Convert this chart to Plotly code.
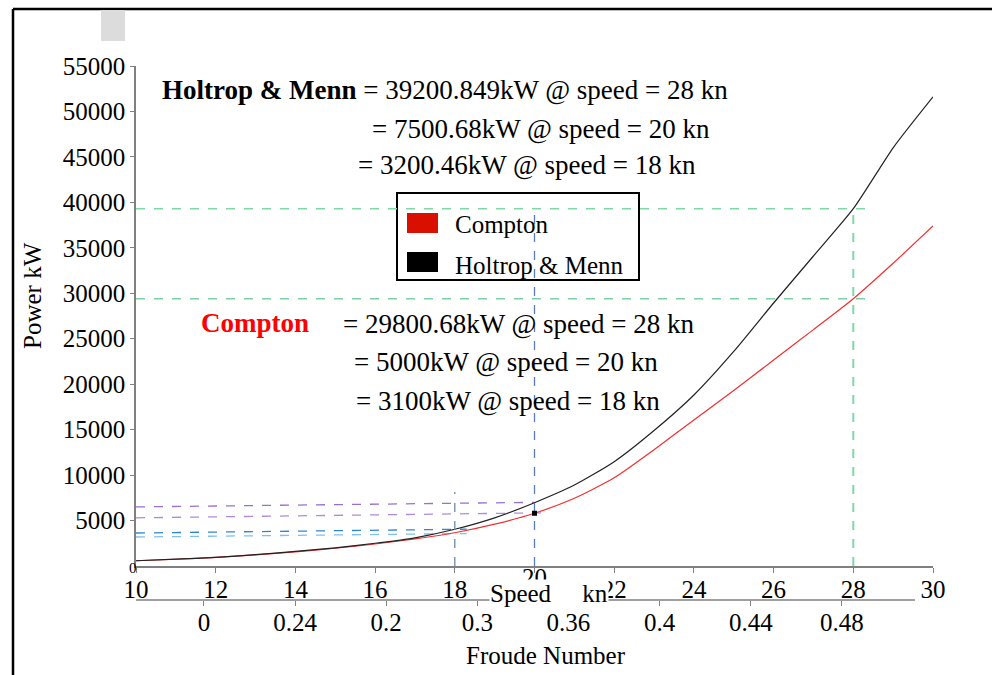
import plotly.graph_objects as go

# speed in knots and power in kW
speed = [10, 11, 12, 13, 14, 15, 16, 17, 18, 19, 20, 21, 22, 23, 24, 25, 26, 27, 28, 29, 30]
holtrop_kw = [580, 750, 950, 1250, 1600, 2000, 2500, 3100, 4040, 5300, 6960, 8900, 11470, 14900,
              18810, 23600, 28930, 34100, 39300, 46000, 51600]
compton_kw = [580, 740, 940, 1220, 1550, 1950, 2420, 2980, 3660, 4600, 5800, 7450, 9700, 12800,
              16060, 19300, 22660, 26000, 29400, 33300, 37400]

# dashed guide lines (speed, kW)
guide_green_hi = ([10, 28.5], [39300, 39300])
guide_green_lo = ([10, 28.3], [29400, 29400])
guide_green_v = ([28, 28], [0, 39300])
guide_blue_v = ([20, 20], [0, 39300])
guide_grey_v = ([18, 18], [0, 8150])
guide_purple_1 = ([10, 20], [6500, 7000])
guide_purple_2 = ([10, 20.2], [5300, 5850])
guide_blue_1 = ([10, 18.3], [3630, 4050])
guide_blue_2 = ([10, 18.3], [3190, 3570])
marker_pt = ([20], [5800])

speed_ticks = [10, 12, 14, 16, 18, 20, 22, 24, 26, 28, 30]
speed_text = ["10", "12", "14", "16", "18", "", "22", "24", "26", "28", "30"]
power_ticks = [5000, 10000, 15000, 20000, 25000, 30000, 35000, 40000, 45000, 50000, 55000]
power_text = ["5000", "10000", "15000", "20000", "25000", "30000", "35000", "40000", "45000",
              "50000", "55000"]
froude_pos = [0, 1, 2, 3, 4, 5, 6, 7]
froude_text = ["0", "0.24", "0.2", "0.3", "0.36", "0.4", "0.44", "0.48"]

FONT = "Liberation Serif"
L, R, T, B = 136, 933, 66, 600


def px(x):
    return (x - L) / (R - L)


def py(y):
    return (B - y) / (B - T)


fig = go.Figure()


def dashed(xy, color, width=1.3):
    fig.add_trace(go.Scatter(x=xy[0], y=xy[1], mode="lines", showlegend=False, hoverinfo="skip",
                             line=dict(color=color, width=width, dash="dash")))


dashed(guide_purple_1, "#9a6fd0")
dashed(guide_purple_2, "#b08ad8")
dashed(guide_blue_1, "#2f86d0")
dashed(guide_blue_2, "#7fc0ea")

fig.add_trace(go.Scatter(x=speed, y=compton_kw, mode="lines", name="Compton",
                         line=dict(color="#f03030", width=1.2, shape="spline", smoothing=0.6),
                         showlegend=False))
fig.add_trace(go.Scatter(x=speed, y=holtrop_kw, mode="lines", name="Holtrop & Menn",
                         line=dict(color="#222222", width=1.2, shape="spline", smoothing=0.6),
                         showlegend=False))

dashed(guide_green_hi, "#7ed9a6", 1.5)
dashed(guide_green_lo, "#7ecfa6", 1.5)
dashed(guide_green_v, "#7ed9a6", 2)
dashed(guide_blue_v, "#5a7cb8", 1.3)
dashed(guide_grey_v, "#6a8ab0", 1.3)

fig.add_trace(go.Scatter(x=marker_pt[0], y=marker_pt[1], mode="markers", showlegend=False,
                         marker=dict(symbol="square", size=5, color="black")))

# dummy trace so the Froude axis is drawn
fig.add_trace(go.Scatter(x=[froude_pos[0]], y=[0], xaxis="x2", mode="markers", showlegend=False,
                         hoverinfo="skip", marker=dict(opacity=0)))

shapes = [
    # outer frame
    dict(type="line", xref="paper", yref="paper", x0=px(13), x1=px(992), y0=py(9), y1=py(9),
         line=dict(color="black", width=2.5)),
    dict(type="line", xref="paper", yref="paper", x0=px(13), x1=px(13), y0=py(9), y1=py(675),
         line=dict(color="black", width=2.5)),
    dict(type="rect", xref="paper", yref="paper", x0=px(101), x1=px(125), y0=py(10), y1=py(41),
         fillcolor="#dcdcdc", line=dict(width=0)),
    # Froude axis line
    dict(type="line", xref="paper", yref="paper", x0=px(136), x1=px(915), y0=py(600), y1=py(600),
         line=dict(color="#808080", width=1.5)),
    # legend box
    dict(type="rect", xref="paper", yref="paper", x0=px(397), x1=px(639), y0=py(193), y1=py(280),
         fillcolor="white", line=dict(color="black", width=2), layer="below"),
    dict(type="rect", xref="paper", yref="paper", x0=px(407), x1=px(438), y0=py(213), y1=py(233),
         fillcolor="#d90f00", line=dict(width=0)),
    dict(type="rect", xref="paper", yref="paper", x0=px(407), x1=px(438), y0=py(252), y1=py(272),
         fillcolor="black", line=dict(width=0)),
]


def note(text, x, y, size=27, color="black", xanchor="left", **kw):
    return dict(text=text, x=px(x), y=py(y), xref="paper", yref="paper", showarrow=False,
                xanchor=xanchor, yanchor="middle", font=dict(family=FONT, size=size, color=color), **kw)


annotations = [
    note("<b>Holtrop & Menn</b> = 39200.849kW @ speed = 28 kn", 160, 90),
    note("= 7500.68kW @ speed = 20 kn", 370, 129),
    note("= 3200.46kW @ speed = 18 kn", 356, 165),
    note("<b>Compton</b>", 199, 323, color="#ff0000"),
    note("= 29800.68kW @ speed = 28 kn", 341, 324),
    note("= 5000kW @ speed = 20 kn", 352, 362),
    note("= 3100kW @ speed = 18 kn", 354, 401),
    note("Compton", 453, 225, size=25),
    note("Holtrop & Menn", 453, 265, size=25),
    note("Power kW", 32, 296, size=25, xanchor="center", textangle=-90),
    note("Froude Number", 546, 655, size=25, xanchor="center"),
    note("0", 133, 568, size=15, xanchor="center"),
    dict(text="20", x=20, y=py(577), xref="x", yref="paper", showarrow=False, yanchor="middle",
         font=dict(family=FONT, size=25, color="black")),
    note("Speed&nbsp;&nbsp;&nbsp;&nbsp;&nbsp;kn", 549, 593, size=25, xanchor="center",
         bgcolor="white", borderpad=0),
]

fig.update_layout(
    width=992, height=675, autosize=False,
    margin=dict(l=L, r=992 - R, t=T, b=675 - B),
    paper_bgcolor="white", plot_bgcolor="white",
    font=dict(family=FONT, size=25, color="black"),
    showlegend=False,
    shapes=shapes,
    annotations=annotations,
    xaxis=dict(range=[10, 30], tickvals=speed_ticks, ticktext=speed_text, anchor="y",
               showline=True, linecolor="#808080", linewidth=1.5, ticks="outside", ticklen=5,
               tickcolor="#808080", showgrid=False, zeroline=False, ticklabelstandoff=-5,
               tickfont=dict(family=FONT, size=25)),
    xaxis2=dict(range=[-0.746, 8.0], tickvals=froude_pos, ticktext=froude_text,
                overlaying="x", anchor="free", position=0, side="bottom",
                showline=False, ticks="outside", ticklen=5, tickcolor="#808080",
                showgrid=False, zeroline=False, ticklabelstandoff=-5,
                tickfont=dict(family=FONT, size=25)),
    yaxis=dict(range=[0, 55000], domain=[py(566), 1], tickvals=power_ticks, ticktext=power_text,
               showline=True, linecolor="#808080", linewidth=1.5, ticks="outside", ticklen=4,
               tickcolor="#808080", showgrid=False, zeroline=False,
               tickfont=dict(family=FONT, size=25)),
)

fig.write_html("out.html", config={"displayModeBar": False},
               post_script="document.body.style.margin='0';")
